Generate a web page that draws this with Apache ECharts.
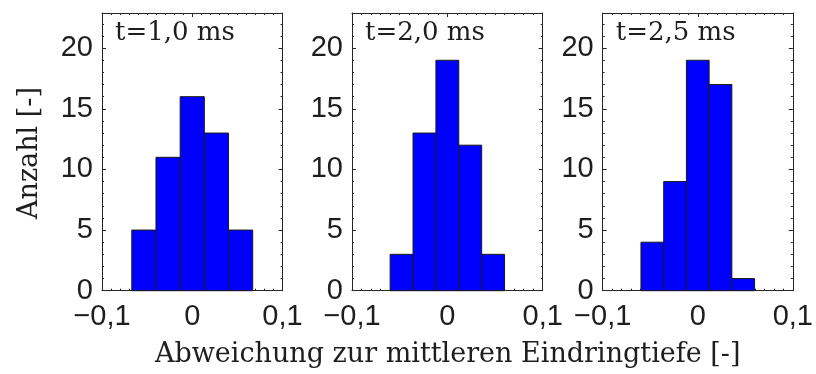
<!DOCTYPE html>
<html>
<head>
<meta charset="utf-8">
<script src="https://cdn.jsdelivr.net/npm/echarts@6/dist/echarts.min.js"></script>
<style>
  html, body { margin: 0; padding: 0; background: #ffffff; }
  #chart { width: 816px; height: 374px; }
</style>
</head>
<body>
<div id="chart"></div>
<script>
// Histograms of the deviation from the mean penetration depth at three times
const panelTitles = ['t=1,0 ms', 't=2,0 ms', 't=2,5 ms'];

const binCenters1 = [-0.0536, -0.0268, 0, 0.0268, 0.0536];
const binWidth1 = 0.0268;
const counts1 = [5, 11, 16, 13, 5];

const binCenters2 = [-0.048, -0.024, 0, 0.024, 0.048];
const binWidth2 = 0.024;
const counts2 = [3, 13, 19, 12, 3];

const binCenters3 = [-0.0478, -0.0239, 0, 0.0239, 0.0478];
const binWidth3 = 0.0239;
const counts3 = [4, 9, 19, 17, 1];

const xTickValues = [-0.1, 0, 0.1];
const yTickValues = [0, 5, 10, 15, 20];
const xRange = [-0.1, 0.1];
const yRange = [0, 22.9];

const xLabel = 'Abweichung zur mittleren Eindringtiefe [-]';
const yLabel = 'Anzahl [-]';

const panels = [
  { centers: binCenters1, width: binWidth1, counts: counts1 },
  { centers: binCenters2, width: binWidth2, counts: counts2 },
  { centers: binCenters3, width: binWidth3, counts: counts3 }
];

// plot-area boxes
const boxes = [
  { left: 102, width: 180.5 },
  { left: 352, width: 190.7 },
  { left: 602.7, width: 190.6 }
];
const boxTop = 13;
const boxHeight = 277.7;

const ink = '#262626';
const textInk = '#1e1e1e';
const tickFont = 'Liberation Sans, Arial, sans-serif';
const serifFont = 'DejaVu Serif, serif';

function near(list, v) {
  return list.find(t => Math.abs(t - v) < 1e-9);
}
function fmtX(v) {
  const t = near(xTickValues, Math.round(v * 1000) / 1000);
  if (t === undefined) return '';
  if (t === 0) return '0';
  return (t < 0 ? '\u2212' : '') + Math.abs(t).toFixed(1).replace('.', ',');
}
function fmtY(v) {
  const t = near(yTickValues, v);
  return t === undefined ? '' : String(t);
}

const lineStyle = { color: ink, width: 1 };

const grids = [], xAxes = [], yAxes = [], series = [], titles = [];

panels.forEach((p, i) => {
  const b = boxes[i];
  grids.push({ left: b.left, top: boxTop, width: b.width, height: boxHeight, containLabel: false });

  const xBase = {
    gridIndex: i, type: 'value', min: xRange[0], max: xRange[1], interval: 0.1,
    axisLine: { show: true, onZero: false, lineStyle },
    axisTick: { show: true, inside: true, length: 4, lineStyle },
    minorTick: { show: true, splitNumber: 10, length: 2, lineStyle },
    splitLine: { show: false }
  };
  xAxes.push(Object.assign({}, xBase, {
    position: 'bottom',
    axisLabel: { show: true, fontFamily: tickFont, fontSize: 29, color: textInk, margin: 12,
                 showMinLabel: true, showMaxLabel: true, formatter: fmtX }
  }));
  xAxes.push(Object.assign({}, xBase, { position: 'top', axisLabel: { show: false } }));

  const yBase = {
    gridIndex: i, type: 'value', min: yRange[0], max: yRange[1], interval: 5,
    axisLine: { show: true, onZero: false, lineStyle },
    axisTick: { show: true, inside: true, length: 4, lineStyle },
    minorTick: { show: true, splitNumber: 5, length: 2, lineStyle },
    splitLine: { show: false }
  };
  yAxes.push(Object.assign({}, yBase, {
    position: 'left',
    axisLabel: { show: true, fontFamily: tickFont, fontSize: 29, color: textInk, margin: 9,
                 showMaxLabel: false, formatter: fmtY }
  }));
  yAxes.push(Object.assign({}, yBase, { position: 'right', axisLabel: { show: false } }));

  series.push({
    type: 'custom',
    xAxisIndex: i * 2,
    yAxisIndex: i * 2,
    data: p.centers.map((c, k) => [c, p.counts[k], p.width]),
    encode: { x: 0, y: 1 },
    renderItem: (params, api) => {
      const c = api.value(0), n = api.value(1), w = api.value(2);
      const tl = api.coord([c - w / 2, n]);
      const br = api.coord([c + w / 2, 0]);
      return {
        type: 'rect',
        shape: { x: tl[0], y: tl[1], width: br[0] - tl[0], height: br[1] - tl[1] },
        style: { fill: '#0000ff', stroke: '#1a1a1a', lineWidth: 1 }
      };
    },
    z: 1
  });

  titles.push({
    text: panelTitles[i],
    left: b.left + 13,
    top: 20,
    padding: 0,
    textStyle: { fontFamily: serifFont, fontSize: 26, fontWeight: 'normal', color: textInk }
  });
});

const chart = echarts.init(document.getElementById('chart'), null, { renderer: 'canvas' });
chart.setOption({
  animation: false,
  backgroundColor: '#ffffff',
  title: titles,
  grid: grids,
  xAxis: xAxes,
  yAxis: yAxes,
  series: series,
  graphic: [
    {
      type: 'text', x: 30, y: 153, rotation: Math.PI / 2,
      style: { text: yLabel, fontFamily: serifFont, fontSize: 27, fill: textInk,
               textAlign: 'center', textVerticalAlign: 'middle' }
    },
    {
      type: 'text', x: 447.7, y: 355,
      style: { text: xLabel, fontFamily: serifFont, fontSize: 27, fill: textInk,
               textAlign: 'center', textVerticalAlign: 'middle' }
    }
  ]
});
</script>
</body>
</html>
